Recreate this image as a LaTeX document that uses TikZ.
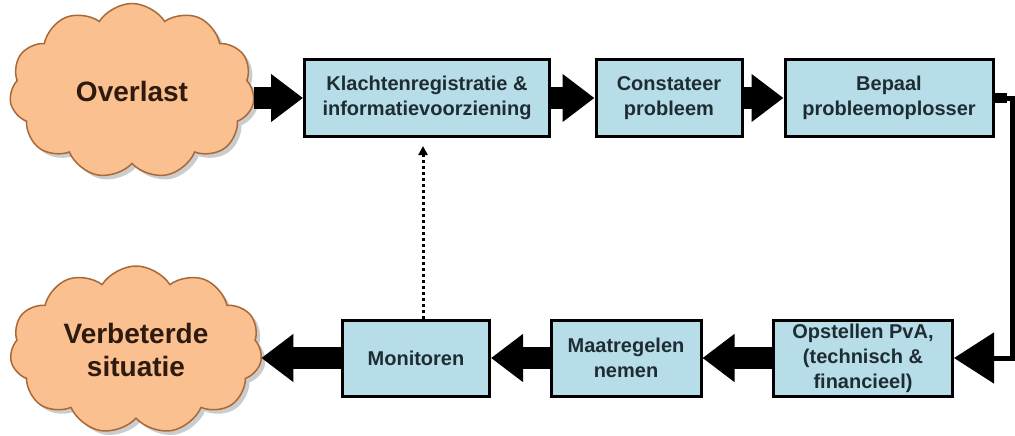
\documentclass[tikz,border=0pt]{standalone}
\usepackage{fontspec}
\setmainfont{Liberation Sans}
\usetikzlibrary{arrows.meta,shapes.symbols,shadows}

\definecolor{boxblue}{HTML}{B7DDE8}
\definecolor{cloudorange}{HTML}{FAC08F}
\definecolor{cloudline}{HTML}{A8693A}
\definecolor{boxtext}{HTML}{1E2D33}
\definecolor{cloudtext}{HTML}{2E1A0E}

\begin{document}
\begin{tikzpicture}[x=1pt, y=-1pt, line join=miter,
    stepbox/.style={draw=black, line width=3pt, fill=boxblue, text=boxtext,
        font=\bfseries\fontsize{20}{25}\selectfont, align=center,
        minimum height=77pt, inner xsep=0pt, inner ysep=0pt},
    cloudnode/.style={cloud, cloud puffs=11, cloud puff arc=115, cloud ignores aspect,
        draw=cloudline, line width=1.5pt, fill=cloudorange, text=cloudtext,
        font=\bfseries\fontsize{28}{33}\selectfont, align=center,
        drop shadow={shadow xshift=4pt, shadow yshift=-4pt, fill=black!40}},
    blockarrow/.style={line width=22pt, -{Triangle[width=46pt,length=32pt]}},
    elbowarrow/.style={line width=5pt, -{Triangle[width=50pt,length=40pt]}},
    flowdot/.style={dash pattern=on 3pt off 3pt, line width=3pt,
        -{Triangle[width=9pt,length=9pt]}, shorten >=8pt}
    ]

    \useasboundingbox (0,0) rectangle (1015,436);

    % top row
    \node [cloudnode, minimum width=245pt, minimum height=175pt] (over) at (132,91) {Overlast};
    \node [stepbox, minimum width=245pt] (klacht) at (427,98) {Klachtenregistratie \&\\informatievoorziening};
    \node [stepbox, minimum width=146pt] (const) at (669,98) {Constateer\\probleem};
    \node [stepbox, minimum width=208pt] (bepaal) at (889,98) {Bepaal\\probleemoplosser};

    % bottom row
    \node [stepbox, minimum width=179pt, minimum height=76pt] (opstel) at (863,358) {Opstellen PvA,\\(technisch \&\\financieel)};
    \node [stepbox, minimum width=150pt, minimum height=76pt] (maatr) at (626,358) {Maatregelen\\nemen};
    \node [stepbox, minimum width=147pt, minimum height=76pt] (monit) at (416,358) {Monitoren};
    \node [cloudnode, minimum width=252pt, minimum height=168pt] (verb) at (136,350) {Verbeterde\\situatie};

    \draw [blockarrow] (over.east |- klacht.west) -- (klacht.west);
    \draw [blockarrow] (klacht) -- (const);
    \draw [blockarrow] (const) -- (bepaal);
    \draw [line width=10pt] (bepaal.east) -- ++(12,0);
    \draw [elbowarrow] (bepaal.east) -- ++(18,0) |- (opstel.east);
    \draw [blockarrow] (opstel) -- (maatr);
    \draw [blockarrow] (maatr) -- (monit);
    \draw [blockarrow] (monit.west) -- (verb.east |- monit.west);
    \draw [flowdot] ([xshift=7pt]monit.north) -- ([xshift=7pt]monit.north |- klacht.south);

\end{tikzpicture}
\end{document}
